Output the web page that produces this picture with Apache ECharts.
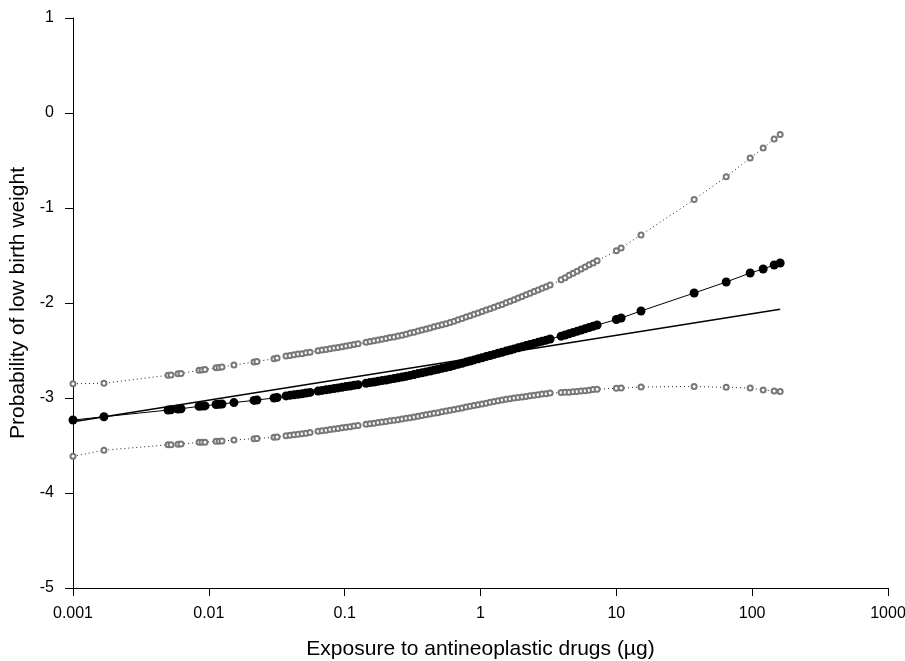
<!DOCTYPE html>
<html>
<head>
<meta charset="utf-8">
<script src="https://cdn.jsdelivr.net/npm/echarts@6/dist/echarts.min.js"></script>
<style>
html,body{margin:0;padding:0;background:#fff;}
#chart{width:905px;height:661px;}
</style>
</head>
<body>
<div id="chart"></div>
<script>
// Exposure values (µg) of the fitted points
const exposure = [
0.001,0.00169,0.00501,0.00527,0.00593,0.00624,0.00847,0.00891,0.00937,0.0113,0.0119,0.0125,0.0153,0.0215,0.0226,0.0302,0.0318,
0.0370,0.0396,0.0424,0.0454,0.0486,0.0520,0.0556,0.0637,0.0682,0.0730,0.0781,0.0836,0.0894,0.0957,0.1024,0.1096,0.1173,0.1255,
0.1438,0.1538,0.1646,0.1762,0.1885,0.2018,0.2159,0.2311,0.2473,0.2647,0.2832,0.3031,0.3244,0.3472,0.3715,0.3976,0.4255,0.4553,
0.4873,0.5215,0.5581,0.5973,0.6392,0.6840,0.7320,0.7834,0.8384,0.8972,0.9601,1.0275,1.0998,1.177,1.259,1.348,1.443,1.544,1.652,
1.768,1.892,2.025,2.167,2.319,2.482,2.656,2.842,3.042,3.254,3.922,4.197,4.492,4.808,5.144,5.506,5.892,6.305,6.747,7.221,
10.0,10.85,15.2,37.4,64.4,96.7,120.5,145.2,160.8
];
// Predicted values
const predicted = [
-3.232,-3.197,-3.127,-3.124,-3.116,-3.113,-3.088,-3.085,-3.083,-3.068,-3.066,-3.063,-3.048,-3.025,-3.021,-3.000,-2.995,
-2.978,-2.972,-2.966,-2.960,-2.955,-2.947,-2.941,-2.927,-2.920,-2.914,-2.907,-2.900,-2.894,-2.887,-2.880,-2.874,-2.866,-2.860,
-2.845,-2.838,-2.832,-2.824,-2.817,-2.811,-2.802,-2.796,-2.788,-2.780,-2.771,-2.762,-2.753,-2.743,-2.735,-2.725,-2.716,-2.706,
-2.697,-2.687,-2.678,-2.668,-2.657,-2.645,-2.634,-2.622,-2.611,-2.599,-2.587,-2.576,-2.564,-2.553,-2.541,-2.529,-2.518,-2.506,-2.495,
-2.483,-2.472,-2.460,-2.448,-2.437,-2.425,-2.414,-2.402,-2.391,-2.379,-2.349,-2.337,-2.324,-2.311,-2.298,-2.285,-2.272,-2.258,-2.245,-2.232,
-2.174,-2.158,-2.084,-1.895,-1.779,-1.684,-1.642,-1.600,-1.579
];
// Upper confidence limit
const upperCI = [
-2.850,-2.845,-2.761,-2.757,-2.746,-2.742,-2.709,-2.705,-2.701,-2.681,-2.678,-2.674,-2.653,-2.622,-2.616,-2.586,-2.579,
-2.559,-2.552,-2.545,-2.538,-2.533,-2.524,-2.518,-2.503,-2.496,-2.489,-2.482,-2.474,-2.468,-2.460,-2.453,-2.446,-2.437,-2.430,
-2.413,-2.405,-2.398,-2.389,-2.381,-2.374,-2.364,-2.357,-2.348,-2.339,-2.328,-2.317,-2.307,-2.295,-2.285,-2.273,-2.263,-2.251,
-2.240,-2.229,-2.218,-2.206,-2.192,-2.177,-2.163,-2.148,-2.134,-2.119,-2.104,-2.089,-2.074,-2.060,-2.045,-2.030,-2.015,-1.998,-1.982,
-1.965,-1.948,-1.931,-1.913,-1.897,-1.879,-1.862,-1.845,-1.828,-1.810,-1.756,-1.735,-1.709,-1.687,-1.665,-1.643,-1.620,-1.597,-1.579,-1.556,
-1.451,-1.420,-1.284,-0.911,-0.670,-0.473,-0.368,-0.274,-0.227
];
// Lower confidence limit
const lowerCI = [
-3.614,-3.549,-3.493,-3.491,-3.486,-3.484,-3.467,-3.465,-3.465,-3.455,-3.454,-3.452,-3.443,-3.428,-3.426,-3.414,-3.411,
-3.397,-3.392,-3.387,-3.382,-3.377,-3.370,-3.364,-3.351,-3.344,-3.339,-3.332,-3.326,-3.320,-3.314,-3.307,-3.302,-3.295,-3.290,
-3.277,-3.271,-3.266,-3.259,-3.253,-3.248,-3.240,-3.235,-3.228,-3.221,-3.214,-3.207,-3.199,-3.191,-3.185,-3.177,-3.169,-3.161,
-3.154,-3.145,-3.138,-3.130,-3.122,-3.113,-3.105,-3.096,-3.088,-3.079,-3.070,-3.063,-3.054,-3.046,-3.037,-3.028,-3.021,-3.014,-3.008,
-3.001,-2.996,-2.989,-2.983,-2.977,-2.971,-2.966,-2.959,-2.954,-2.948,-2.942,-2.939,-2.939,-2.935,-2.931,-2.927,-2.924,-2.919,-2.911,-2.908,
-2.897,-2.896,-2.884,-2.879,-2.888,-2.895,-2.916,-2.926,-2.931
];
// Linear (straight) fit endpoints
const linearX = [0.001, 160.8];
const linearY = [-3.25, -2.066];

const xTickLabels = ['0.001','0.01','0.1','1','10','100','1000'];
const yTickLabels = ['-5','-4','-3','-2','-1','0','1'];

const zip = (xs, ys) => xs.map((x, i) => [x, ys[i]]);
const FONT = 'Liberation Sans, Arial, sans-serif';

const chart = echarts.init(document.getElementById('chart'), null, {renderer: 'canvas'});
chart.setOption({
  animation: false,
  backgroundColor: '#fff',
  grid: {left: 73, right: 17, top: 18, bottom: 73, containLabel: false, outerBoundsMode: 'none'},
  xAxis: {
    type: 'log', logBase: 10, min: 0.001, max: 1000,
    name: 'Exposure to antineoplastic drugs (µg)',
    nameLocation: 'middle', nameGap: 51,
    nameTextStyle: {fontFamily: FONT, fontSize: 21, color: '#000'},
    axisLine: {show: true, onZero: false, lineStyle: {color: '#000', width: 1}},
    axisTick: {show: true, inside: false, length: 8, lineStyle: {color: '#000', width: 1}},
    minorTick: {show: false},
    splitLine: {show: false},
    axisLabel: {
      fontFamily: FONT, fontSize: 16, color: '#000', margin: 18,
      formatter: v => xTickLabels[Math.round(Math.log10(v)) + 3]
    }
  },
  yAxis: {
    type: 'value', min: -5, max: 1, interval: 1,
    name: 'Probability of low birth weight',
    nameLocation: 'middle', nameGap: 44, nameRotate: 90,
    nameTextStyle: {fontFamily: FONT, fontSize: 21, color: '#000'},
    axisLine: {show: true, onZero: false, lineStyle: {color: '#000', width: 1}},
    axisTick: {show: true, inside: false, length: 8, lineStyle: {color: '#000', width: 1}},
    splitLine: {show: false},
    axisLabel: {
      fontFamily: FONT, fontSize: 16, color: '#000', margin: 19,
      formatter: v => yTickLabels[Math.round(v) + 5]
    }
  },
  series: [
    {
      name: 'Upper', type: 'line', data: zip(exposure, upperCI),
      symbol: 'emptyCircle', symbolSize: 5, showAllSymbol: true,
      itemStyle: {color: '#777', borderColor: '#777', borderWidth: 0.7},
      lineStyle: {color: '#222', width: 1, type: [1, 3]},
      silent: true, z: 2
    },
    {
      name: 'Lower', type: 'line', data: zip(exposure, lowerCI),
      symbol: 'emptyCircle', symbolSize: 5, showAllSymbol: true,
      itemStyle: {color: '#777', borderColor: '#777', borderWidth: 0.7},
      lineStyle: {color: '#222', width: 1, type: [1, 3]},
      silent: true, z: 2
    },
    {
      name: 'Predicted', type: 'line', data: zip(exposure, predicted),
      symbol: 'circle', symbolSize: 9, showAllSymbol: true,
      itemStyle: {color: '#000'},
      lineStyle: {color: '#000', width: 1},
      silent: true, z: 3
    },
    {
      name: 'Linear', type: 'line', data: zip(linearX, linearY),
      symbol: 'none',
      lineStyle: {color: '#000', width: 1.5},
      silent: true, z: 4
    }
  ]
});
</script>
</body>
</html>
